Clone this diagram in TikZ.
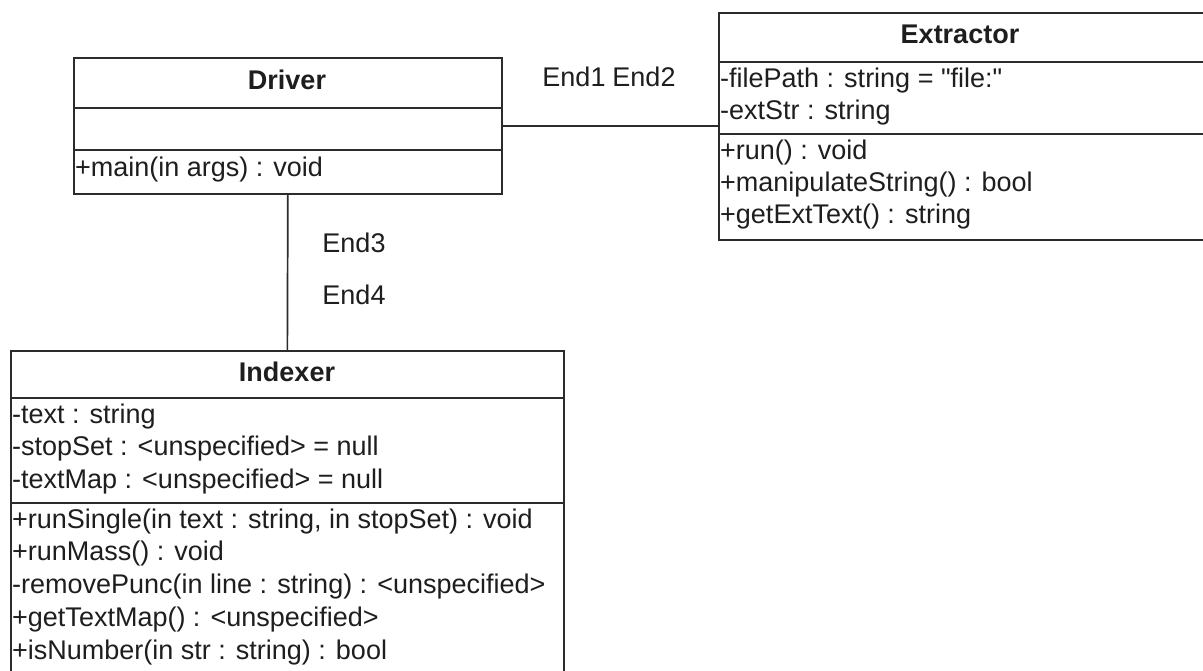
\documentclass[tikz,border=0pt]{standalone}
\usepackage{fontspec}
\setmainfont{Liberation Sans}[Ligatures=TeXOff]
\definecolor{linec}{HTML}{2B2B2B}
\definecolor{textc}{HTML}{1E1E1E}
\begin{document}
\begin{tikzpicture}[x=1pt,y=-1pt]
\tikzset{
  umlbox/.style={draw=linec, line width=1.7pt, inner sep=0pt, anchor=north west},
  divider/.style={draw=linec, line width=1.7pt},
  assoc/.style={draw=linec, line width=1.7pt},
  member/.style={anchor=west, inner sep=0pt, text=textc, font=\fontsize{27}{32}\selectfont},
  classname/.style={inner sep=0pt, text=textc, font=\bfseries\fontsize{27}{32}\selectfont},
  rolelabel/.style={inner sep=0pt, text=textc, font=\fontsize{27}{32}\selectfont}
}
\useasboundingbox (0,0) rectangle (1203,670);
\clip (0,0) rectangle (1203,670);
\fill[white] (0,0) rectangle (1203,670);

% Driver class
\node[umlbox, minimum width=428pt, minimum height=136pt] (driver) at (73,57) {};
\draw[divider] ([yshift=-51pt]driver.north west) -- ([yshift=-51pt]driver.north east);
\draw[divider] ([yshift=-93pt]driver.north west) -- ([yshift=-93pt]driver.north east);
\node[classname] (drivername) at (287,80) {Driver};
\node[member] (drivermain) at (75,170) {+main(in args) : void};

% Extractor class (runs off the right edge)
\node[umlbox, minimum width=497pt, minimum height=227pt] (extractor) at (718,12) {};
\draw[divider] ([yshift=-50pt]extractor.north west) -- ([yshift=-50pt]extractor.north east);
\draw[divider] ([yshift=-122pt]extractor.north west) -- ([yshift=-122pt]extractor.north east);
\node[classname] (extractorname) at (960,34) {Extractor};
\node[member] (extfile) at (720,81) {-filePath : string = "file:"};
\node[member] (extstr) at (720,113) {-extStr : string};
\node[member] (extrun) at (720,153) {+run() : void};
\node[member] (extmanip) at (720,185) {+manipulateString() : bool};
\node[member] (extget) at (720,217) {+getExtText() : string};

% Indexer class (runs off the bottom edge)
\node[umlbox, minimum width=553pt, minimum height=360pt] (indexer) at (10,350) {};
\draw[divider] ([yshift=-48pt]indexer.north west) -- ([yshift=-48pt]indexer.north east);
\draw[divider] ([yshift=-153pt]indexer.north west) -- ([yshift=-153pt]indexer.north east);
\node[classname] (indexername) at (287,372) {Indexer};
\node[member] (idxtext) at (12,417) {-text : string};
\node[member] (idxstop) at (12,449) {-stopSet : <unspecified> = null};
\node[member] (idxmap) at (12,482) {-textMap : <unspecified> = null};
\node[member] (idxsingle) at (12,522) {+runSingle(in text : string, in stopSet) : void};
\node[member] (idxmass) at (12,554) {+runMass() : void};
\node[member] (idxpunc) at (12,587) {-removePunc(in line : string) : <unspecified>};
\node[member] (idxgetmap) at (12,620) {+getTextMap() : <unspecified>};
\node[member] (idxnum) at (12,653) {+isNumber(in str : string) : bool};

% Associations
\draw[assoc] (driver.east) -- (driver.east -| extractor.west);
\draw[assoc] (driver.south) -- (indexer.north);

% Association end labels
\node[rolelabel] (end1) at (574,77) {End1};
\node[rolelabel] (end2) at (644,77) {End2};
\node[rolelabel] (end3) at (354,243) {End3};
\node[rolelabel] (end4) at (354,295) {End4};
\end{tikzpicture}
\end{document}
